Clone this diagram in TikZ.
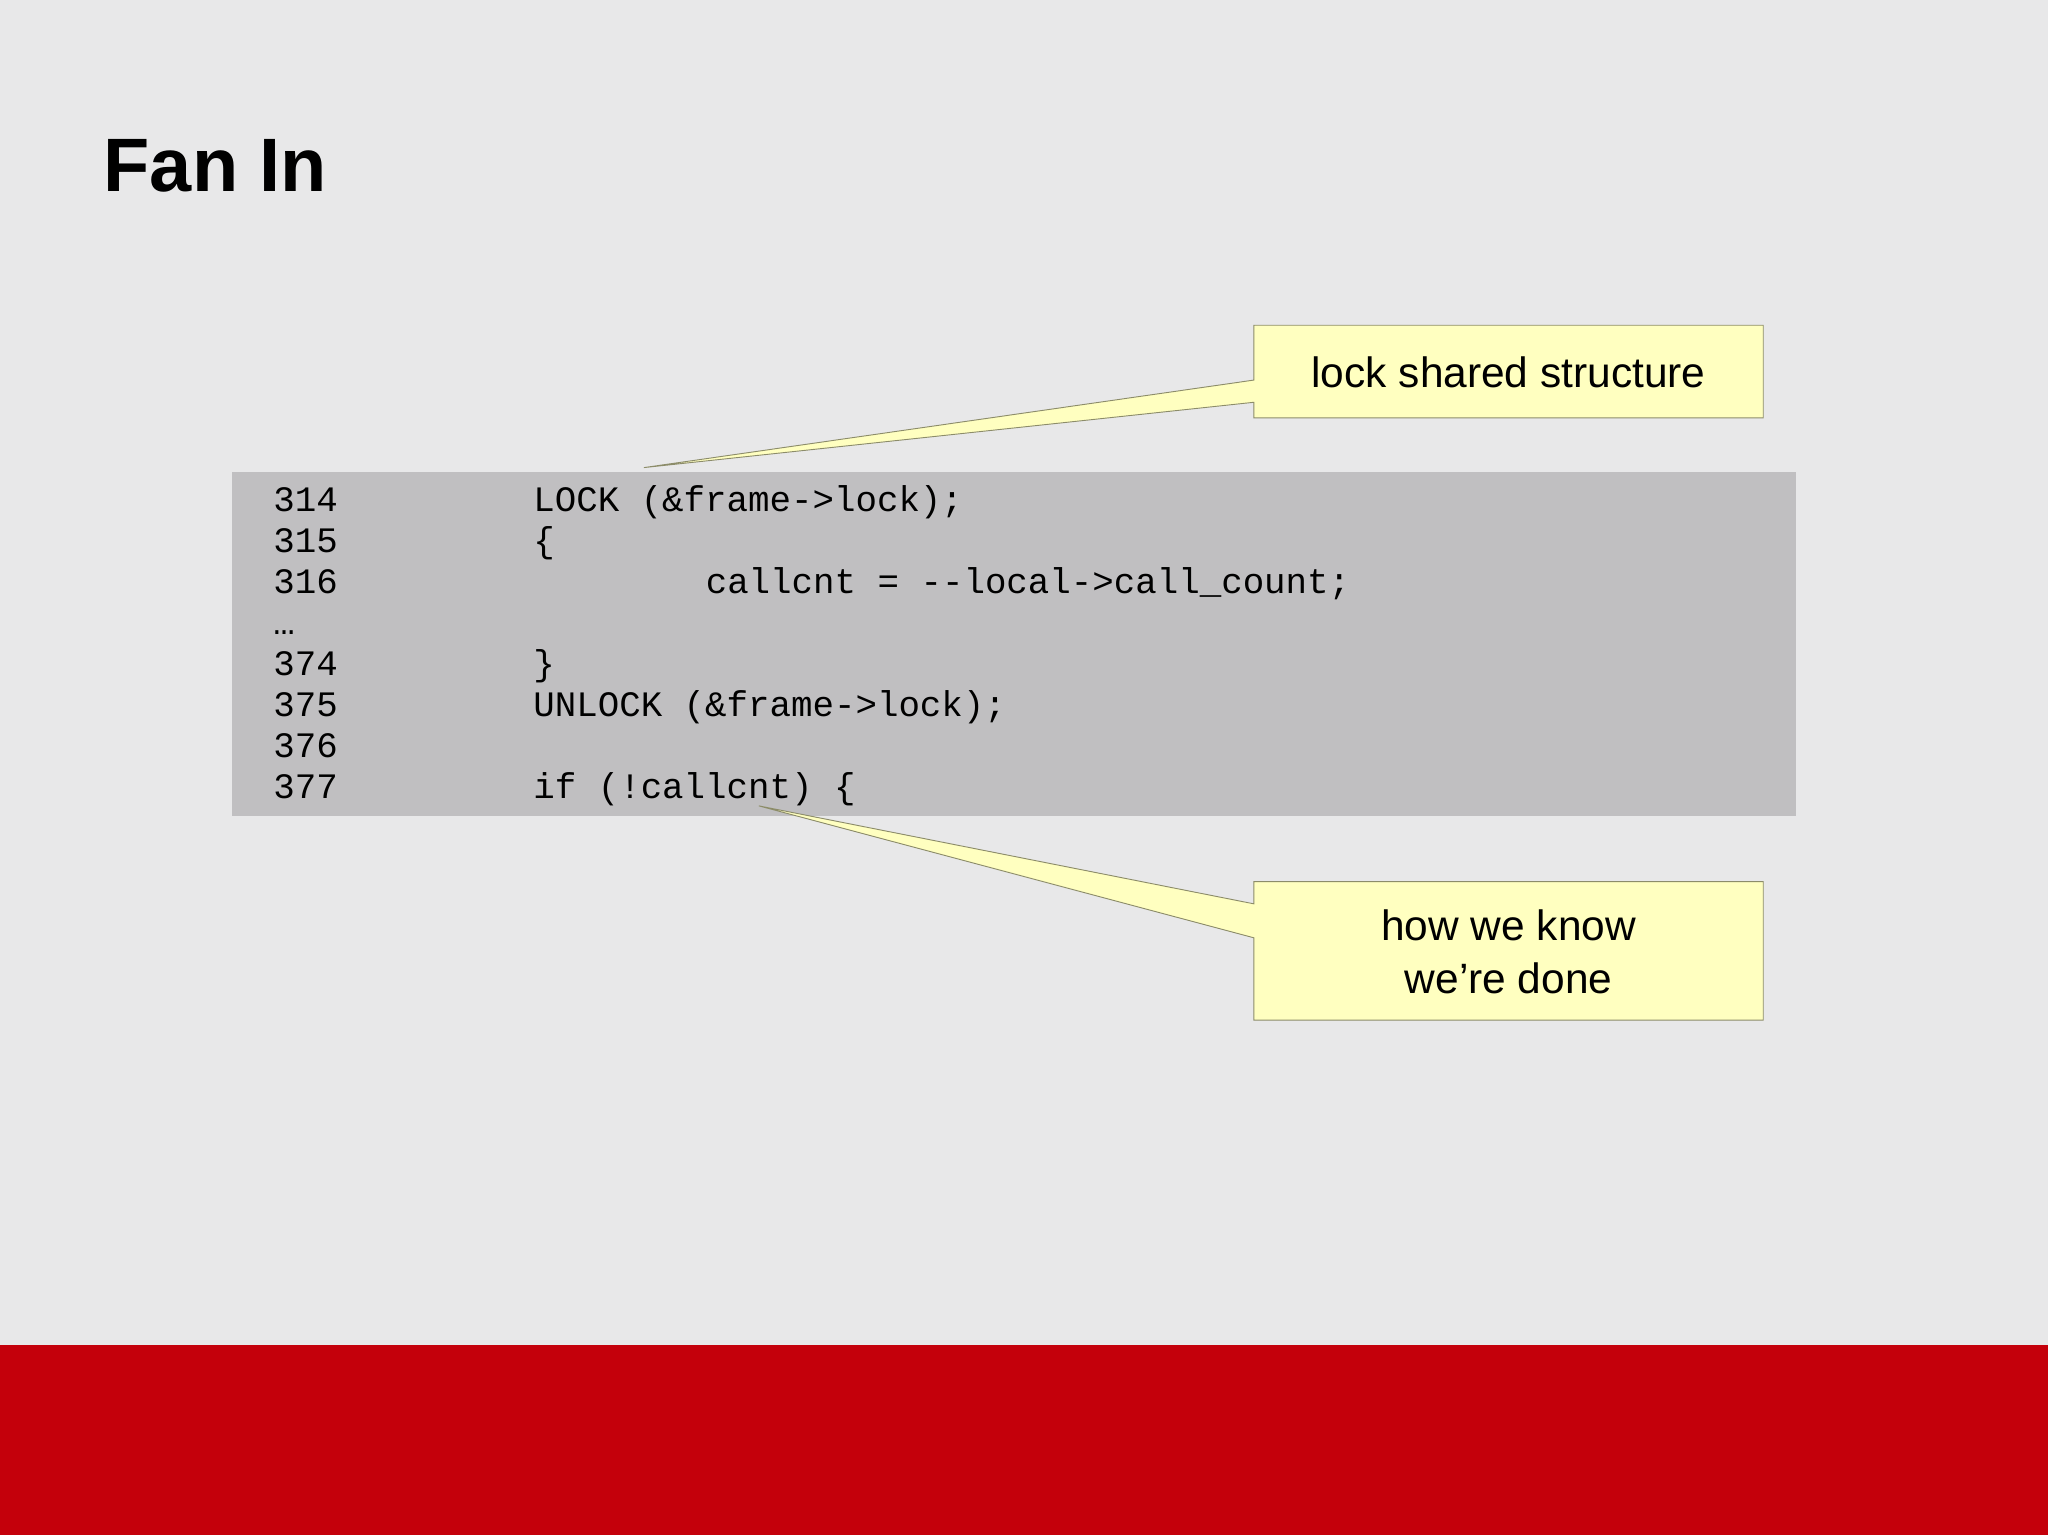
\documentclass[tikz,border=0pt]{standalone}
\usepackage{fontspec}
\setmainfont{Liberation Sans}
\setmonofont{Liberation Mono}
\definecolor{bg}{HTML}{E8E8E9}
\definecolor{band}{HTML}{C4000B}
\definecolor{codebg}{HTML}{C0BFC1}
\definecolor{callfill}{HTML}{FFFFC0}
\definecolor{calldraw}{HTML}{8C8C6A}
\begin{document}
\begin{tikzpicture}[x=0.02cm,y=-0.02cm,
  code/.style={anchor=base west,inner sep=0pt,font=\ttfamily\fontsize{15.6}{17.6}\selectfont},
  callout/.style={fill=callfill,draw=calldraw,line width=0.4pt},
  calltext/.style={font=\fontsize{18.5}{23}\selectfont,align=center,inner sep=0pt}]
\fill[bg] (0,0) rectangle (1568,1175);
\useasboundingbox (0,0) rectangle (1568,1175);
\fill[band] (0,1030) rectangle (1568,1175);
\node[anchor=base west,inner sep=0pt,font=\bfseries\fontsize{33}{38}\selectfont] (title) at (79,147) {Fan In};
\fill[codebg] (178,361) rectangle (1375,625);
\foreach \n/\t/\x [count=\i from 0] in {314/{LOCK (\&frame->lock);}/408,315/\{/408,316/{callcnt = -{}-local->call\_count;}/540,{…}/{}/408,374/\}/408,375/{UNLOCK (\&frame->lock);}/408,376/{}/408,377/{if (!callcnt) \{}/408}{
  \node[code] (n\i) at (209,392+31.3*\i) {\n};
  \node[code] (c\i) at (\x,392+31.3*\i) {\t};
}
% callout 1
\coordinate (tipA) at (493,358);
\draw[callout] (960,249) -- (1350,249) -- (1350,320) -- (960,320) -- (960,308) -- (tipA) -- (960,291) -- cycle;
\node[calltext] (la) at (1155,285) {lock shared structure};
% callout 2
\coordinate (tipB) at (581,617);
\draw[callout] (960,675) -- (1350,675) -- (1350,781) -- (960,781) -- (960,718) -- (tipB) -- (960,692) -- cycle;
\node[calltext] (lb) at (1155,729) {how we know\\we're done};
\end{tikzpicture}
\end{document}
